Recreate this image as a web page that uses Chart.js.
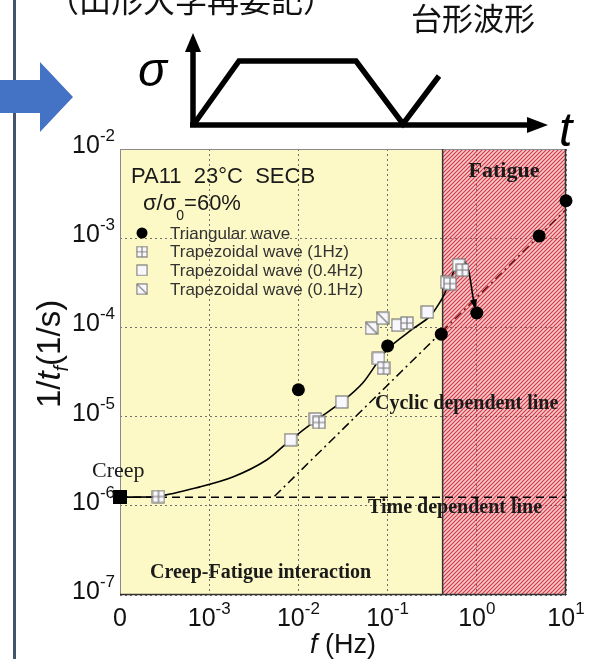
<!DOCTYPE html>
<html><head><meta charset="utf-8">
<script src="https://cdn.jsdelivr.net/npm/chart.js@4.4.0/dist/chart.umd.min.js"></script>
<style>html,body{margin:0;padding:0;background:#fff;overflow:hidden}canvas{display:block}</style>
</head><body>
<canvas id="c" width="594" height="659" style="width:594px;height:659px"></canvas>
<script>
// ---------- data ----------
const xTickValues = [1e-4, 1e-3, 1e-2, 1e-1, 1, 10];
const xTickLabels = [["0", ""], ["10", "-3"], ["10", "-2"], ["10", "-1"], ["10", "0"], ["10", "1"]];
const yTickValues = [1e-7, 1e-6, 1e-5, 1e-4, 1e-3, 1e-2];
const yTickLabels = [["10", "-7"], ["10", "-6"], ["10", "-5"], ["10", "-4"], ["10", "-3"], ["10", "-2"]];
const fatigueStartHz = 0.414;

const freqTriangular = [0.01, 0.1, 0.4, 1.0, 5.0, 10];
const rateTriangular = [2.0e-5, 6.2e-5, 8.4e-5, 1.45e-4, 1.06e-3, 2.63e-3];
const freqTrap1Hz = [2.7e-4, 0.017, 0.09, 0.165, 0.50, 0.69];
const rateTrap1Hz = [1.27e-6, 8.6e-6, 3.5e-5, 1.12e-4, 3.1e-4, 4.4e-4];
const freqTrap04Hz = [8.2e-3, 0.0155, 0.0306, 0.079, 0.13, 0.28, 0.46, 0.625];
const rateTrap04Hz = [5.5e-6, 9.4e-6, 1.46e-5, 4.5e-5, 1.06e-4, 1.49e-4, 3.2e-4, 5.0e-4];
const freqTrap01Hz = [0.066, 0.088];
const rateTrap01Hz = [9.8e-5, 1.27e-4];
const freqCreep = [1e-4];
const rateCreep = [1.25e-6];

const freqFitCurve = [1e-4, 2.7e-4, 7.9e-4, 1.84e-3, 4.4e-3, 8.2e-3, 0.016, 0.0306, 0.0526, 0.098, 0.191, 0.296, 0.400, 0.455, 0.495, 0.540, 0.589, 0.641, 0.698, 0.762, 0.815, 0.859, 0.904, 0.953];
const rateFitCurve = [1.25e-6, 1.28e-6, 1.63e-6, 2.1e-6, 3.26e-6, 5.5e-6, 9.2e-6, 1.46e-5, 2.38e-5, 5.6e-5, 9.6e-5, 1.32e-4, 2.03e-4, 2.62e-4, 3.17e-4, 4.04e-4, 4.79e-4, 5.41e-4, 5.55e-4, 5.14e-4, 4.21e-4, 3.12e-4, 2.21e-4, 1.71e-4];
const freqTimeLine = [1e-4, 10];
const rateTimeLine = [1.25e-6, 1.25e-6];
const freqCyclicLine = [5.4e-3, 0.4, 10];
const rateCyclicLine = [1.28e-6, 8.8e-5, 2.1e-3];

const pts = (xs, ys) => xs.map((x, i) => ({ x: x, y: ys[i] }));

// ---------- marker images ----------
function makeSquare(kind) {
  const s = 14, c = document.createElement('canvas');
  c.width = s; c.height = s;
  const g = c.getContext('2d');
  if (kind === 'filled') { g.fillStyle = '#000'; g.fillRect(0, 0, s, s); return c; }
  g.fillStyle = '#f7f7fd'; g.fillRect(1, 1, s - 2, s - 2);
  g.strokeStyle = '#7a7a7a'; g.lineWidth = 1.2;
  g.strokeRect(1, 1, s - 2, s - 2);
  g.beginPath();
  if (kind === 'cross') { g.moveTo(s / 2, 1); g.lineTo(s / 2, s - 1); g.moveTo(1, s / 2); g.lineTo(s - 1, s / 2); }
  if (kind === 'hatch') { g.moveTo(1, 1); g.lineTo(s - 1, s - 1); }
  g.stroke();
  return c;
}
const mkCross = makeSquare('cross'), mkOpen = makeSquare('open'), mkHatch = makeSquare('hatch'), mkFilled = makeSquare('filled');

function makeHatchPattern(ctx) {
  const c = document.createElement('canvas'); c.width = 4; c.height = 4;
  const g = c.getContext('2d');
  g.strokeStyle = 'rgba(210,30,45,0.85)'; g.lineWidth = 1.2;
  g.beginPath();
  g.moveTo(0, 4); g.lineTo(4, 0);
  g.moveTo(-1, 1); g.lineTo(1, -1);
  g.moveTo(3, 5); g.lineTo(5, 3);
  g.stroke();
  return ctx.createPattern(c, 'repeat');
}

const SANS = '"Liberation Sans", Arial, sans-serif';
const SERIF = '"Liberation Serif", "Times New Roman", serif';
const CJK = '"Noto Sans CJK JP", "Noto Sans CJK SC", sans-serif';

function drawPow(ctx, base, exp, x, yBase, align, bs, es, rise) {
  ctx.font = bs + 'px ' + SANS;
  const wb = ctx.measureText(base).width;
  ctx.font = es + 'px ' + SANS;
  const we = exp ? ctx.measureText(exp).width : 0;
  const x0 = align === 'center' ? x - (wb + we) / 2 : x - (wb + we);
  ctx.textAlign = 'left'; ctx.textBaseline = 'alphabetic';
  ctx.fillStyle = '#111';
  ctx.font = bs + 'px ' + SANS; ctx.fillText(base, x0, yBase);
  if (exp) { ctx.font = es + 'px ' + SANS; ctx.fillText(exp, x0 + wb, yBase - rise); }
}

const decor = {
  id: 'decor',
  beforeDraw(chart) {
    const { ctx, chartArea: a, scales: { x } } = chart;
    const fx = x.getPixelForValue(fatigueStartHz);
    ctx.save();
    ctx.fillStyle = '#fff'; ctx.fillRect(0, 0, chart.width, chart.height);
    ctx.fillStyle = '#fcf9c6'; ctx.fillRect(a.left, a.top, fx - a.left, a.bottom - a.top);
    ctx.fillStyle = '#f5cccd'; ctx.fillRect(fx, a.top, a.right - fx, a.bottom - a.top);
    ctx.restore();
  },
  beforeDatasetsDraw(chart) {
    const { ctx, chartArea: a, scales: { x } } = chart;
    const fx = x.getPixelForValue(fatigueStartHz);
    ctx.save();
    ctx.fillStyle = makeHatchPattern(ctx);
    ctx.fillRect(fx, a.top, a.right - fx, a.bottom - a.top);
    ctx.strokeStyle = '#8a8a8a'; ctx.lineWidth = 1;
    ctx.strokeRect(a.left + 0.5, a.top + 0.5, a.right - a.left - 1, a.bottom - a.top - 1);
    ctx.strokeStyle = '#333'; ctx.lineWidth = 1.5;
    ctx.beginPath();
    ctx.moveTo(fx, a.top); ctx.lineTo(fx, a.bottom);
    ctx.moveTo(a.right - 0.5, a.top); ctx.lineTo(a.right - 0.5, a.bottom);
    ctx.moveTo(a.left, a.bottom - 0.5); ctx.lineTo(a.right, a.bottom - 0.5);
    ctx.stroke();
    ctx.restore();
  },
  afterDatasetsDraw(chart) {
    const ctx = chart.ctx;
    const meta = chart.getDatasetMeta(5);
    const p = meta.data[meta.data.length - 1], q = meta.data[meta.data.length - 2];
    const ang = Math.atan2(p.y - q.y, p.x - q.x);
    ctx.save(); ctx.fillStyle = '#000';
    ctx.translate(p.x, p.y); ctx.rotate(ang);
    ctx.beginPath(); ctx.moveTo(3, 0); ctx.lineTo(-7, -3.5); ctx.lineTo(-7, 3.5); ctx.closePath(); ctx.fill();
    ctx.restore();
  },
  afterDraw(chart) {
    const { ctx, chartArea: a, scales: { x, y } } = chart;
    ctx.save();
    xTickValues.forEach((v, i) => drawPow(ctx, xTickLabels[i][0], xTickLabels[i][1], x.getPixelForValue(v), a.bottom + 31, 'center', 25, 17, 12));
    yTickValues.forEach((v, i) => drawPow(ctx, yTickLabels[i][0], yTickLabels[i][1], a.left - 5, y.getPixelForValue(v) + 4, 'right', 25, 17, 12));
    // x title
    ctx.fillStyle = '#111'; ctx.textBaseline = 'alphabetic'; ctx.textAlign = 'left';
    ctx.font = 'italic 27px ' + SANS; const wf = ctx.measureText('f').width;
    ctx.font = '27px ' + SANS; const wh = ctx.measureText(' (Hz)').width;
    let xs = (a.left + a.right) / 2 - (wf + wh) / 2;
    ctx.font = 'italic 27px ' + SANS; ctx.fillText('f', xs, 653);
    ctx.font = '27px ' + SANS; ctx.fillText(' (Hz)', xs + wf, 653);
    // y title (rotated)
    ctx.save();
    ctx.translate(60, 354); ctx.rotate(-Math.PI / 2);
    const parts = [['1/', '33px ' + SANS, 0], ['t', 'italic 33px ' + SANS, 0], ['f', 'italic 20px ' + SANS, 8], ['(1/s)', '33px ' + SANS, 0]];
    let tw = 0; parts.forEach(p => { ctx.font = p[1]; tw += ctx.measureText(p[0]).width; });
    let cx = -tw / 2;
    parts.forEach(p => { ctx.font = p[1]; ctx.fillText(p[0], cx, p[2]); cx += ctx.measureText(p[0]).width; });
    ctx.restore();

    // in-plot texts
    ctx.fillStyle = '#1a1a1a';
    ctx.font = '22px ' + SANS; ctx.fillText('PA11  23°C  SECB', 131, 183);
    ctx.font = '22px ' + SANS; ctx.fillText('σ/σ', 143, 210);
    let w1 = ctx.measureText('σ/σ').width;
    ctx.font = '14px ' + SANS; ctx.fillText('0', 143 + w1, 220);
    let w2 = ctx.measureText('0').width;
    ctx.font = '22px ' + SANS; ctx.fillText('=60%', 143 + w1 + w2, 210);

    // legend
    const legendItems = [[chart.data.datasets[0].label, 'dot'], [chart.data.datasets[1].label, mkCross], [chart.data.datasets[2].label, mkOpen], [chart.data.datasets[3].label, mkHatch]];
    ctx.font = '17px ' + SANS; ctx.textBaseline = 'middle';
    legendItems.forEach((it, i) => {
      const ly = 233 + i * 18.7;
      if (it[1] === 'dot') { ctx.fillStyle = '#000'; ctx.beginPath(); ctx.arc(142, ly, 5.5, 0, Math.PI * 2); ctx.fill(); }
      else ctx.drawImage(it[1], 142 - 6, ly - 6, 12, 12);
      ctx.fillStyle = '#333'; ctx.fillText(it[0], 170, ly + 1);
    });
    ctx.textBaseline = 'alphabetic';
    ctx.fillStyle = '#1a1a1a';
    ctx.font = 'bold 22px ' + SERIF; ctx.textAlign = 'center'; ctx.fillText('Fatigue', 504, 177);
    ctx.textAlign = 'left';
    ctx.font = 'bold 20px ' + SERIF; ctx.fillText('Cyclic dependent line', 375, 409);
    ctx.fillText('Time dependent line', 368, 513);
    ctx.fillText('Creep-Fatigue interaction', 150, 578);
    ctx.font = '22px ' + SERIF; ctx.fillText('Creep', 92, 477);

    // ---------- slide decorations ----------
    ctx.fillStyle = '#44546a'; ctx.fillRect(13, 0, 3, chart.height);
    ctx.fillStyle = '#4472c4';
    ctx.beginPath(); ctx.moveTo(0, 80); ctx.lineTo(40, 80); ctx.lineTo(40, 62); ctx.lineTo(73, 97); ctx.lineTo(40, 132); ctx.lineTo(40, 113); ctx.lineTo(0, 113); ctx.closePath(); ctx.fill();
    ctx.fillStyle = '#111';
    ctx.font = '32px ' + CJK; ctx.textAlign = 'center'; ctx.textBaseline = 'alphabetic';
    ctx.fillText('（山形大学再要記）', 191, 12);
    ctx.font = '31px ' + CJK; ctx.fillText('台形波形', 473, 30);
    ctx.strokeStyle = '#000'; ctx.lineWidth = 5.5; ctx.lineJoin = 'miter'; ctx.lineCap = 'butt';
    ctx.beginPath(); ctx.moveTo(193, 127); ctx.lineTo(193, 48); ctx.stroke();
    ctx.beginPath(); ctx.moveTo(190, 125); ctx.lineTo(530, 125); ctx.stroke();
    ctx.beginPath(); ctx.moveTo(194, 124); ctx.lineTo(239, 61); ctx.lineTo(356, 61); ctx.lineTo(403, 124); ctx.lineTo(439, 76); ctx.stroke();
    ctx.fillStyle = '#000';
    ctx.beginPath(); ctx.moveTo(193, 33); ctx.lineTo(185, 52); ctx.lineTo(201, 52); ctx.closePath(); ctx.fill();
    ctx.beginPath(); ctx.moveTo(548, 125); ctx.lineTo(527, 117); ctx.lineTo(527, 133); ctx.closePath(); ctx.fill();
    ctx.textAlign = 'left';
    ctx.font = 'italic 48px ' + SANS; ctx.fillText('σ', 138, 86);
    ctx.fillText('t', 559, 146);
    ctx.restore();
  }
};

const blackish = '#000';
new Chart(document.getElementById('c').getContext('2d'), {
  type: 'scatter',
  data: {
    datasets: [
      { label: 'Triangular wave', data: pts(freqTriangular, rateTriangular), pointStyle: 'circle', pointRadius: 6.5, backgroundColor: blackish, borderColor: blackish, borderWidth: 0, clip: false },
      { label: 'Trapezoidal wave (1Hz)', data: pts(freqTrap1Hz, rateTrap1Hz), pointStyle: mkCross, clip: false },
      { label: 'Trapezoidal wave (0.4Hz)', data: pts(freqTrap04Hz, rateTrap04Hz), pointStyle: mkOpen, clip: false },
      { label: 'Trapezoidal wave (0.1Hz)', data: pts(freqTrap01Hz, rateTrap01Hz), pointStyle: mkHatch, clip: false },
      { label: 'Creep', data: pts(freqCreep, rateCreep), pointStyle: mkFilled, clip: false },
      { label: 'Fit', data: pts(freqFitCurve, rateFitCurve), showLine: true, pointRadius: 0, borderColor: '#000', borderWidth: 1.6, tension: 0.3, clip: false },
      { label: 'Time dependent line', data: pts(freqTimeLine, rateTimeLine), showLine: true, pointRadius: 0, borderColor: '#000', borderWidth: 1.5, borderDash: [8, 5] },
      { label: 'Cyclic dependent line', data: pts(freqCyclicLine, rateCyclicLine), showLine: true, pointRadius: 0, borderColor: '#000', borderWidth: 1.5, borderDash: [9, 4, 2, 4],
        segment: { borderColor: c => (c.p0.parsed.x >= fatigueStartHz * 0.95 ? '#6b1515' : '#000') } }
    ]
  },
  options: {
    responsive: false, animation: false, devicePixelRatio: 1,
    layout: { padding: { left: 120, top: 149, right: 28, bottom: 64 } },
    plugins: { legend: { display: false }, tooltip: { enabled: false } },
    scales: {
      x: { type: 'logarithmic', min: 1e-4, max: 10,
           afterBuildTicks: s => { s.ticks = xTickValues.map(v => ({ value: v })); },
           ticks: { display: false },
           grid: { color: '#6f6f6f', lineWidth: 1, drawTicks: false },
           border: { display: false, dash: [2, 3] } },
      y: { type: 'logarithmic', min: 1e-7, max: 1e-2,
           afterBuildTicks: s => { s.ticks = yTickValues.map(v => ({ value: v })); },
           ticks: { display: false },
           grid: { color: '#6f6f6f', lineWidth: 1, drawTicks: false },
           border: { display: false, dash: [2, 3] } }
    }
  },
  plugins: [decor]
});
</script>
</body></html>
